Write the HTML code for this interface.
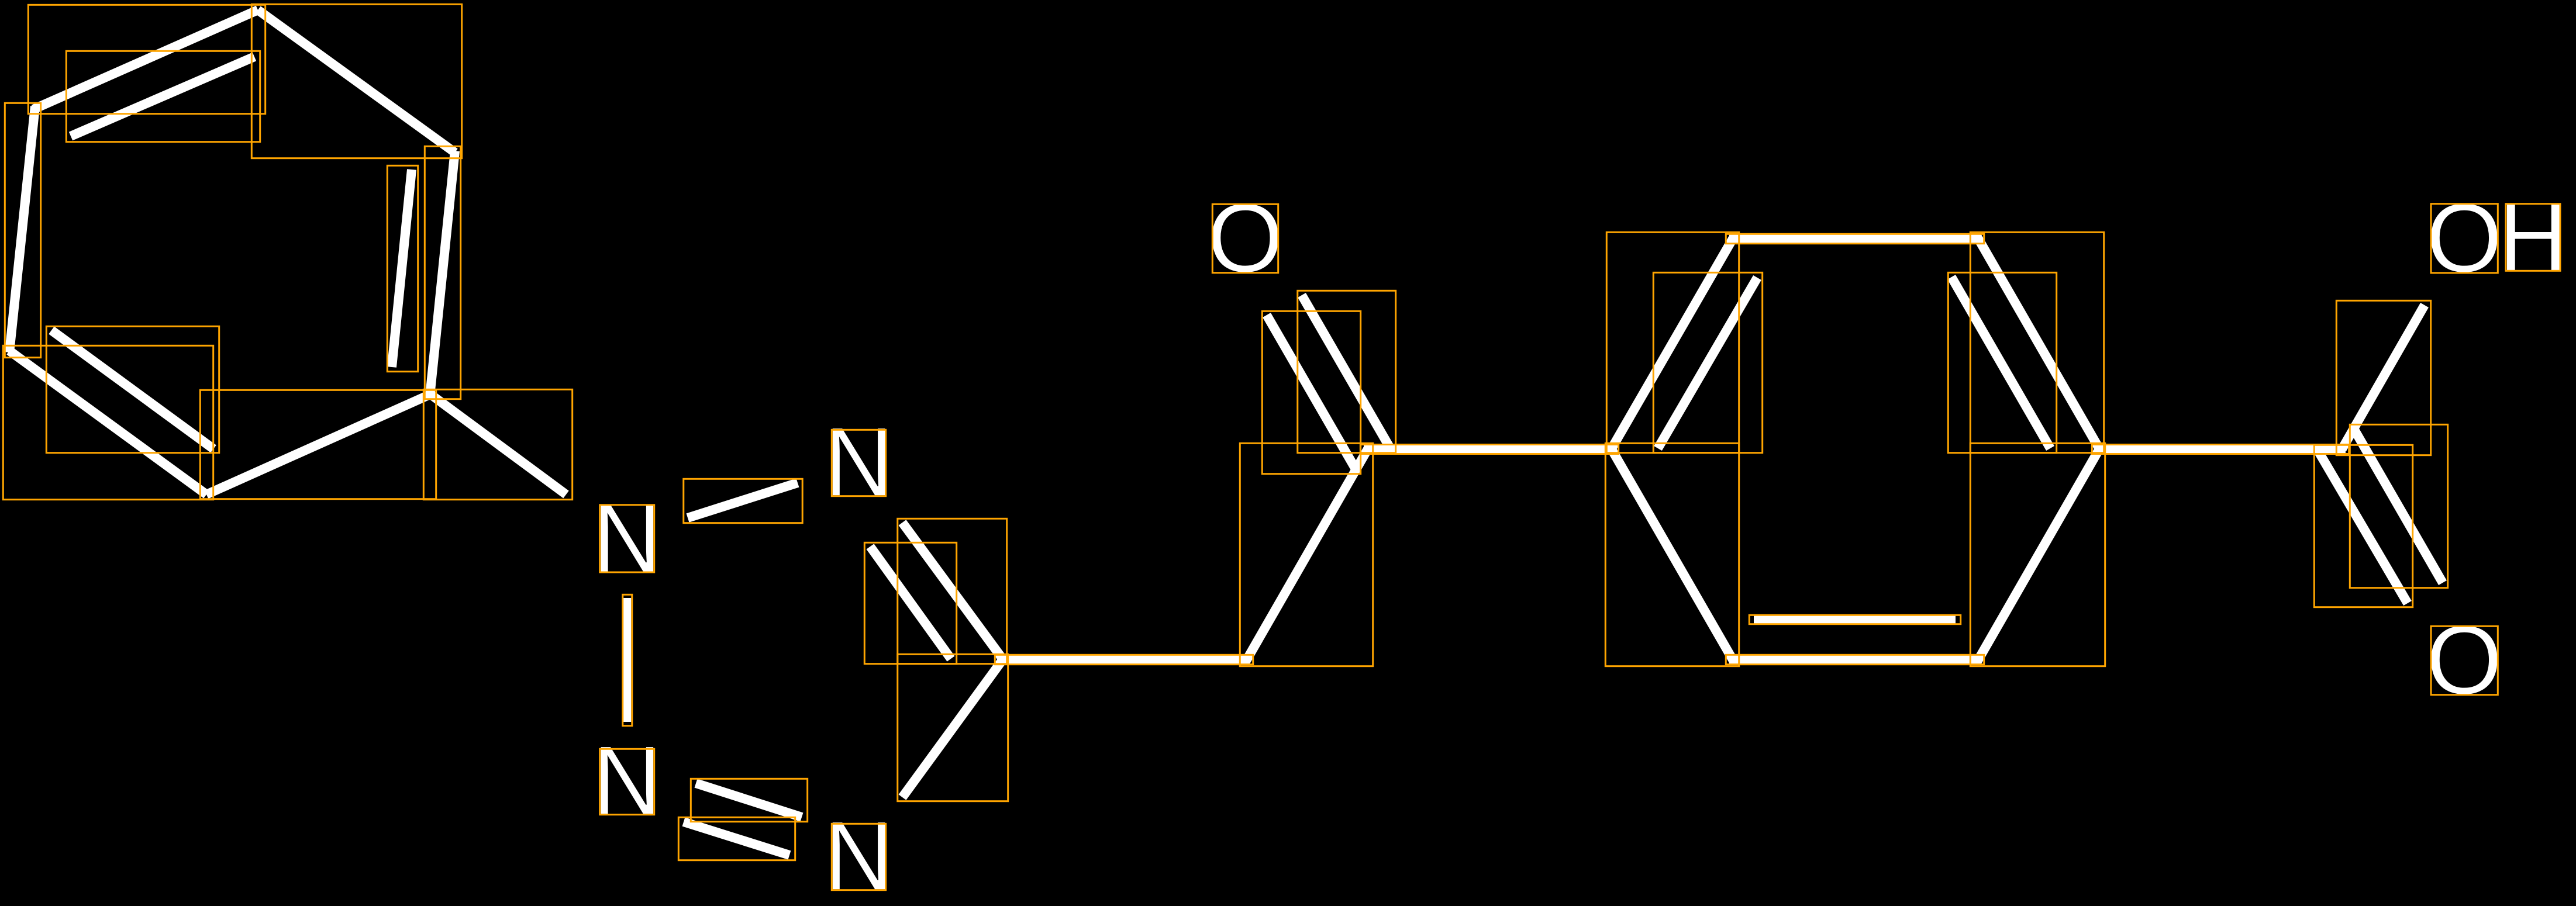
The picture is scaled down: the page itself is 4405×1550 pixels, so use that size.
<!DOCTYPE html>
<html>
<head>
<meta charset="utf-8">
<style>
html,body{margin:0;padding:0;background:#000;width:4405px;height:1550px;overflow:hidden}
svg{display:block}
text{font-family:"Liberation Sans",sans-serif;font-size:168px;fill:#fff;stroke:#000;stroke-width:1.5px;text-anchor:middle}
</style>
</head>
<body>
<svg xmlns="http://www.w3.org/2000/svg" width="4405" height="1550" viewBox="0 0 4405 1550">
<rect width="4405" height="1550" fill="#000"/>
<text transform="translate(1072.3 978.5) scale(.97 1)">N</text>
<text transform="translate(1072.3 1393) scale(.97 1)">N</text>
<text transform="translate(1468.5 848) scale(.97 1)">N</text>
<text transform="translate(1468.5 1522) scale(.97 1)">N</text>
<text x="2129.5" y="465">O</text>
<text x="4214" y="465">O</text>
<text transform="translate(4331.7 463) scale(.97 1)">H</text>
<text x="4214" y="1187">O</text>
<g stroke="#fff" stroke-width="16" fill="none" stroke-linecap="butt">
<line x1="57" y1="187" x2="441" y2="17"/>
<line x1="441" y1="17" x2="778" y2="261"/>
<line x1="778" y1="258" x2="735" y2="678"/>
<line x1="734" y1="673" x2="968" y2="846"/>
<line x1="735" y1="675" x2="353" y2="846"/>
<line x1="353" y1="846" x2="16" y2="600"/>
<line x1="16" y1="603" x2="60" y2="182"/>
<line x1="121" y1="233" x2="435" y2="97"/>
<line x1="704" y1="290" x2="670" y2="628"/>
<line x1="88" y1="565" x2="365" y2="768"/>
<line x1="1176" y1="886" x2="1364" y2="826"/>
<line x1="1190" y1="1340" x2="1371" y2="1398"/>
<line x1="1169" y1="1406" x2="1350" y2="1463"/>
<line x1="1488" y1="935" x2="1626" y2="1127"/>
<line x1="1543" y1="894" x2="1715" y2="1128"/>
<line x1="1543" y1="1364" x2="1715" y2="1128"/>
<line x1="1707" y1="1128.5" x2="2137" y2="1128.5"/>
<line x1="2130" y1="1132" x2="2339" y2="768"/>
<line x1="2166" y1="539" x2="2319" y2="804"/>
<line x1="2226" y1="505" x2="2378" y2="768"/>
<line x1="2332" y1="768.5" x2="2762" y2="768.5"/>
<line x1="2755.5" y1="768" x2="2965" y2="405"/>
<line x1="2835" y1="767" x2="3005" y2="475"/>
<line x1="2755.5" y1="768" x2="2965" y2="1132"/>
<line x1="2957" y1="408" x2="3387" y2="408"/>
<line x1="2957" y1="1128.5" x2="3387" y2="1128.5"/>
<line x1="2999" y1="1060" x2="3344" y2="1060"/>
<line x1="3381" y1="405" x2="3590" y2="768"/>
<line x1="3337" y1="474" x2="3506" y2="767"/>
<line x1="3381" y1="1132" x2="3590" y2="768"/>
<line x1="3583" y1="768.5" x2="4011" y2="768.5"/>
<line x1="4005" y1="768" x2="4146" y2="522"/>
<line x1="4023" y1="730" x2="4177" y2="997"/>
<line x1="3962" y1="768" x2="4117" y2="1032"/>
</g>
<line x1="1072" y1="1023" x2="1072" y2="1235" stroke="#fff" stroke-width="14.5"/>
<g stroke="#FFA500" stroke-width="3" fill="none">
<rect x="48.3" y="8.3" width="405.4" height="186.4"/>
<rect x="113.3" y="87.3" width="331.4" height="155.4"/>
<rect x="430.3" y="7.3" width="359.4" height="263.4"/>
<rect x="8.3" y="176.3" width="61.4" height="435.4"/>
<rect x="662.3" y="283.3" width="52.4" height="352.4"/>
<rect x="726.3" y="250.3" width="61.4" height="432.4"/>
<rect x="79.3" y="558.3" width="295.4" height="216.4"/>
<rect x="5.3" y="591.3" width="359.4" height="263.4"/>
<rect x="342.3" y="667.3" width="403.4" height="186.4"/>
<rect x="724.3" y="666.3" width="254.4" height="188.4"/>
<rect x="1025.7" y="863.8" width="93" height="115.2"/>
<rect x="1064.8" y="1017.3" width="16" height="224.4"/>
<rect x="1025.7" y="1281.3" width="93" height="112.4"/>
<rect x="1422.3" y="735.3" width="92.4" height="113.4"/>
<rect x="1422.3" y="1409.3" width="92.4" height="113.4"/>
<rect x="1168.8" y="819.3" width="203.4" height="75.4"/>
<rect x="1181.3" y="1332.3" width="199.4" height="73.4"/>
<rect x="1160.3" y="1398.3" width="199.4" height="73.4"/>
<rect x="1478.3" y="928.3" width="157.4" height="207.4"/>
<rect x="1534.8" y="887.3" width="186.9" height="248.4"/>
<rect x="1534.8" y="1119.3" width="188.9" height="251.4"/>
<rect x="1701.3" y="1120.3" width="441.4" height="16.4"/>
<rect x="2073.3" y="349.3" width="112.4" height="117.4"/>
<rect x="2158.3" y="532.3" width="168.4" height="278.4"/>
<rect x="2218.8" y="497.3" width="167.9" height="277.4"/>
<rect x="2120.3" y="758.3" width="227.4" height="381.4"/>
<rect x="2326.3" y="760.5" width="441.4" height="16"/>
<rect x="2747.3" y="397.3" width="226.4" height="377.4"/>
<rect x="2827.3" y="466.3" width="186.4" height="308.4"/>
<rect x="2745.3" y="758.3" width="228.4" height="381.4"/>
<rect x="2951.3" y="400.3" width="441.4" height="16.4"/>
<rect x="2951.3" y="1120.3" width="441.4" height="16.4"/>
<rect x="2991.3" y="1052.3" width="361.4" height="15.4"/>
<rect x="3369.3" y="397.3" width="228.4" height="377.4"/>
<rect x="3331.3" y="466.3" width="185.4" height="308.4"/>
<rect x="3369.3" y="758.3" width="230.4" height="381.4"/>
<rect x="3577.3" y="760.5" width="439.4" height="16"/>
<rect x="3995.3" y="514.3" width="161.4" height="264.4"/>
<rect x="4018.3" y="726.3" width="167.4" height="279.4"/>
<rect x="3957.3" y="761.3" width="168.4" height="277.4"/>
<rect x="4157" y="348.7" width="114.3" height="118.2"/>
<rect x="4285" y="348.7" width="93" height="114.6"/>
<rect x="4157" y="1071.3" width="114.3" height="117.4"/>
</g>
</svg>
</body>
</html>
